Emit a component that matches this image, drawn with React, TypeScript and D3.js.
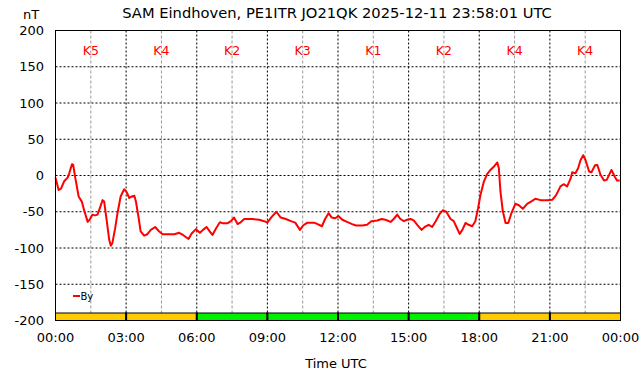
import React from "react";
import * as d3 from "d3";

const title = "SAM Eindhoven, PE1ITR JO21QK 2025-12-11 23:58:01 UTC";
const yTicks = [200, 150, 100, 50, 0, -50, -100, -150, -200];
const xTickLabels = ["00:00", "03:00", "06:00", "09:00", "12:00", "15:00", "18:00", "21:00", "00:00"];
const kIndex = [5, 4, 2, 3, 1, 2, 4, 4];

// minutes since 00:00 UTC
const timeMin = [
  0, 8, 14, 22, 31, 35, 42, 45, 50, 59, 67, 73, 82, 87, 94, 101, 107, 113, 120, 124,
  131, 137, 141, 145, 152, 158, 166, 175, 181, 188, 194, 201, 205, 212, 217, 226, 234, 243, 254, 263,
  273, 290, 303, 315, 325, 339, 347, 358, 368, 376, 385, 393, 400, 409, 419, 427, 438, 447, 455, 464,
  472, 481, 502, 519, 532, 540, 551, 563, 574, 587, 600, 611, 623, 631, 642, 659, 668, 679, 687, 696,
  704, 713, 721, 731, 743, 756, 766, 782, 794, 805, 820, 831, 841, 854, 862, 871, 879, 888, 896, 905,
  913, 922, 933, 941, 951, 960, 969, 979, 987, 996, 1007, 1015, 1021, 1030, 1037, 1045, 1053, 1062, 1070, 1077,
  1083, 1092, 1100, 1109, 1117, 1126, 1130, 1134, 1140, 1147, 1154, 1162, 1172, 1181, 1191, 1202, 1215, 1223, 1236, 1253,
  1266, 1276, 1287, 1295, 1304, 1313, 1317, 1325, 1332, 1338, 1345, 1351, 1360, 1366, 1375, 1381, 1389, 1398, 1405, 1417,
  1425, 1431, 1438,
];
const byValues = [
  -3, -20, -18, -8, -3, 3, 15.5, 15, -2, -29, -36, -48, -64, -61, -54, -55, -54, -45, -34, -36,
  -64, -89, -97, -93, -73, -52, -29, -19, -22.5, -31, -29, -28, -36, -59, -77, -83, -81, -75, -71, -76.5,
  -81, -81, -81, -79, -82, -87.5, -80, -74, -79, -75, -71, -77, -82, -73, -64.5, -66, -66, -63, -58, -67,
  -64.5, -60, -60, -61, -63, -65, -57, -50, -58, -60, -63, -65, -75, -69, -65, -65, -67, -70, -60, -52,
  -58, -59, -56, -61, -64, -67, -69, -69, -68, -63, -62, -60, -61, -64, -60, -54, -60, -63, -61, -60,
  -62, -68, -75, -71, -68, -71, -63, -53, -48, -50, -60, -63, -70, -80.6, -75, -65.5, -68, -70, -63, -45,
  -27, -8, 2, 8, 12, 18, 10, -22, -49, -65.5, -65.5, -52, -39, -41, -46, -39, -35, -32, -34, -34,
  -33.5, -27, -15, -12, -15, -4, 4.5, 3, 10, 21, 28, 21, 5.5, 4.5, 14, 14.5, 1, -7, -6, 7.7,
  -1.4, -7, -7,
];

const W = 642;
const H = 376;
const L = 55.5, R = 620.5, T = 30.5, B = 320.5;
const FONT = "DejaVu Sans, sans-serif";

export default function App() {
  const x = d3.scaleLinear().domain([0, 1440]).range([L, R]);
  const y = d3.scaleLinear().domain([-200, 200]).range([B, T]);
  const data = timeMin.map((t, i) => [t, byValues[i]] as [number, number]);
  const line = d3
    .line<[number, number]>()
    .x((d) => x(d[0]))
    .y((d) => y(d[1]))
    .curve(d3.curveLinear);

  const majors = d3.range(0, 1441, 180);
  const minors = d3.range(90, 1440, 180);
  const kColor = (k: number) => (k >= 4 ? "#ffcc00" : "#00f000");

  return (
    <svg
      width={W}
      height={H}
      style={{ position: "absolute", left: 0, top: 0, background: "#fff" }}
      fontFamily={FONT}
    >
      <rect x={0} y={0} width={W} height={H} fill="#fff" />
      {/* minor vertical grid */}
      {minors.map((m) => (
        <line key={"mn" + m} x1={x(m)} x2={x(m)} y1={T} y2={B} stroke="#999" strokeWidth={1} strokeDasharray="3,2" />
      ))}
      {/* major vertical grid */}
      {majors.slice(1, -1).map((m) => (
        <line key={"mj" + m} x1={x(m)} x2={x(m)} y1={T} y2={B} stroke="#000" strokeWidth={1} strokeDasharray="2,2" />
      ))}
      {/* horizontal grid */}
      {yTicks.map((v) => (
        <line key={"h" + v} x1={L} x2={R} y1={y(v)} y2={y(v)} stroke="#000" strokeWidth={1} strokeDasharray="2,2" />
      ))}
      {/* K index bar */}
      {kIndex.map((k, i) => (
        <rect
          key={"kb" + i}
          x={x(i * 180)}
          y={B - 7.5}
          width={x((i + 1) * 180) - x(i * 180)}
          height={7.5}
          fill={kColor(k)}
          stroke="#000"
          strokeWidth={1}
        />
      ))}
      {majors.slice(1, -1).map((m) => (
        <line key={"kbs" + m} x1={x(m)} x2={x(m)} y1={B - 8} y2={B} stroke="#000" strokeWidth={2} />
      ))}
      {/* K labels */}
      {kIndex.map((k, i) => (
        <text key={"kl" + i} x={x(i * 180 + 90)} y={55} fill="#ff0000" fontSize={12.5} textAnchor="middle">
          {"K" + k}
        </text>
      ))}
      {/* data line */}
      <path d={line(data) || ""} fill="none" stroke="#ff0000" strokeWidth={2} strokeLinejoin="round" />
      {/* frame */}
      <rect x={L} y={T} width={R - L} height={B - T} fill="none" stroke="#000" strokeWidth={1} />
      {/* y tick labels */}
      {yTicks.map((v) => (
        <text key={"yl" + v} x={44} y={y(v)} dy="0.35em" fontSize={13} textAnchor="end" fill="#000">
          {v}
        </text>
      ))}
      {/* x tick labels */}
      {majors.map((m, i) => (
        <text key={"xl" + i} x={x(m)} y={342} fontSize={13} textAnchor="middle" fill="#000">
          {xTickLabels[i]}
        </text>
      ))}
      <text x={31} y={19} fontSize={13} textAnchor="middle" fill="#000">nT</text>
      <text x={337} y={18} fontSize={14.7} textAnchor="middle" fill="#000">{title}</text>
      <text x={336} y={368} fontSize={13} textAnchor="middle" fill="#000">Time UTC</text>
      {/* legend */}
      <line x1={73} x2={80} y1={296} y2={296} stroke="#ff0000" strokeWidth={2} />
      <text x={80.5} y={300} fontSize={10} fill="#000">By</text>
    </svg>
  );
}
